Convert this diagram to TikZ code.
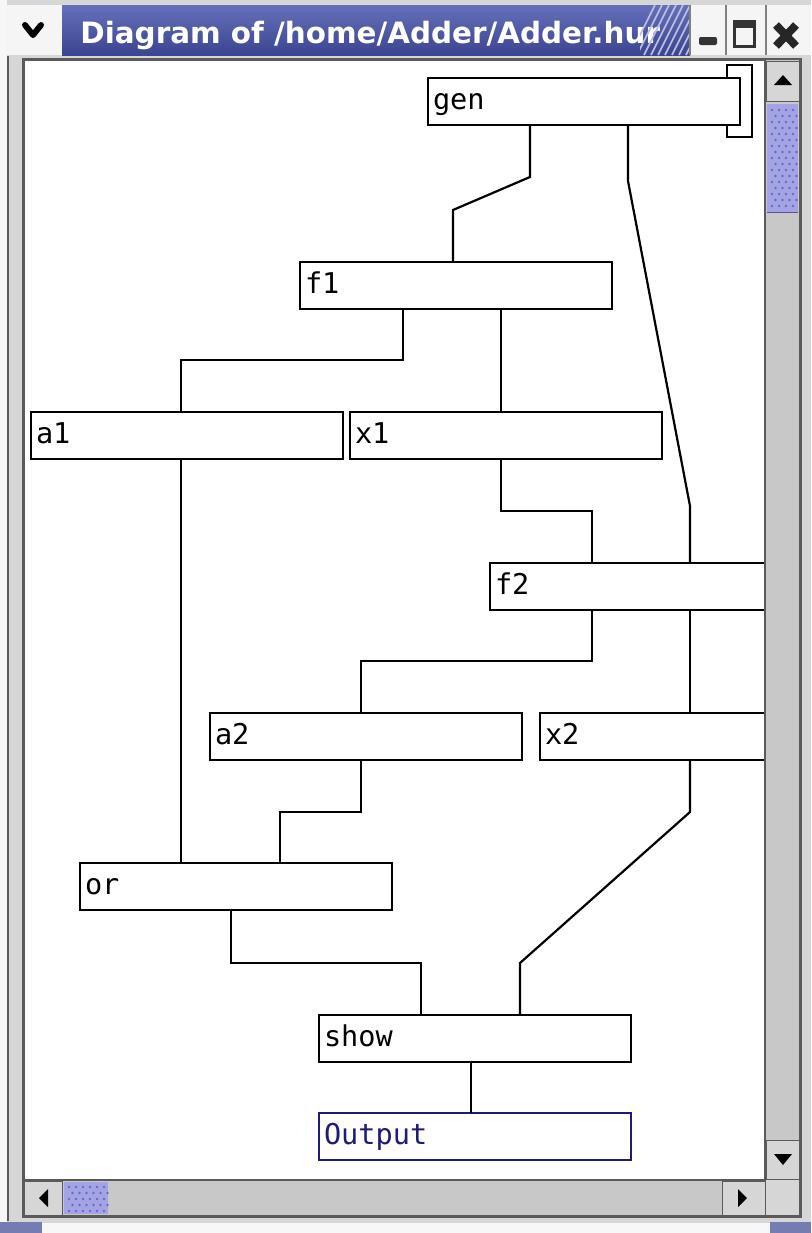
\documentclass[tikz,border=0pt]{standalone}
\usepackage{fontspec}
\usetikzlibrary{calc}
\newfontfamily\boxfont{DejaVu Sans Mono}
\newfontfamily\titlefont{DejaVu Sans}
\definecolor{chrome}{HTML}{D6D6D6}
\definecolor{track}{HTML}{C8C8C8}
\definecolor{edge}{HTML}{5A5A5A}
\definecolor{titletop}{HTML}{6670BA}
\definecolor{titlebot}{HTML}{3A4490}
\definecolor{thumb}{HTML}{A4A4E4}
\definecolor{thumbdot}{HTML}{6A6AC4}
\definecolor{navy}{HTML}{1C1C78}
\tikzset{
  blk/.style={draw, line width=1pt, fill=white, anchor=north west, outer sep=0pt,
    minimum width=156pt, minimum height=23.5pt, text width=151pt, inner xsep=2.5pt,
    inner ysep=0pt, align=left, text height=11pt, text depth=3pt,
    font=\boxfont\fontsize{14.3}{16}\selectfont},
  wire/.style={line width=1.1pt},
  btn/.style={fill=chrome, draw=edge, line width=0.5pt},
}
\begin{document}
\begin{tikzpicture}[x=0.5pt,y=-0.5pt]
 \useasboundingbox (0,0) rectangle (811,1233);
 \fill[white] (0,0) rectangle (811,1233);
 % diagram
 \begin{scope}
 \clip (24,60) rectangle (765,1180);
 \draw[line width=1pt] (727,65) rectangle (752,137);
 \node[blk] (gen) at (428,78) {gen};
 \node[blk] (f1) at (300,262) {f1};
 \node[blk] (a1) at (31,412) {a1};
 \node[blk] (x1) at (350,412) {x1};
 \node[blk] (f2) at (490,563) {f2};
 \node[blk] (a2) at (210,713) {a2};
 \node[blk] (x2) at (540,713) {x2};
 \node[blk] (or) at (80,863) {or};
 \node[blk] (show) at (319,1015) {show};
 \node[blk, draw=navy, text=navy] (out) at (319,1113) {Output};
 \draw[wire] ($(gen.south west)+(102,0)$) -- ++(0,52) -- ($(f1.north west)+(153,-52)$) -- ($(f1.north west)+(153,0)$);
 \draw[wire] ($(gen.south west)+(200,0)$) -- ++(0,56) -- ($(f2.north west)+(200,-57)$) -- ($(f2.north west)+(200,0)$);
 \draw[wire] ($(f1.south west)+(103,0)$) -- ++(0,51) -| ($(a1.north west)+(150,0)$);
 \draw[wire] ($(f1.south west)+(201,0)$) -- ($(x1.north west)+(151,0)$);
 \draw[wire] ($(a1.south west)+(150,0)$) -- ($(or.north west)+(101,0)$);
 \draw[wire] ($(x1.south west)+(151,0)$) -- ++(0,52) -| ($(f2.north west)+(102,0)$);
 \draw[wire] ($(f2.south west)+(102,0)$) -- ++(0,51) -| ($(a2.north west)+(151,0)$);
 \draw[wire] ($(f2.south west)+(200,0)$) -- ($(x2.north west)+(150,0)$);
 \draw[wire] ($(a2.south west)+(151,0)$) -- ++(0,52) -| ($(or.north west)+(200,0)$);
 \draw[wire] ($(or.south west)+(151,0)$) -- ++(0,53) -| ($(show.north west)+(102,0)$);
 \draw[wire] ($(x2.south west)+(150,0)$) -- ++(0,52) -- ($(show.north west)+(201,-52)$) -- ($(show.north west)+(201,0)$);
 \draw[wire] ($(show.south west)+(152,0)$) -- ($(out.north west)+(152,0)$);
 \end{scope}
 % window frame
 \fill[chrome] (0,0) rectangle (24,1233); \fill[chrome] (765,0) rectangle (811,1233);
 \fill[chrome] (0,0) rectangle (811,60); \fill[chrome] (0,1180) rectangle (811,1233);
 \fill[white!94!gray] (0,0) rectangle (7,1222);
 \draw[edge, line width=1pt] (8,56) -- (8,1221); \draw[edge, line width=1.5pt] (23,59) -- (23,1216) -- (800,1216) -- (800,59) -- cycle;
 % title bar
 \fill[white!92!gray] (5,5) rectangle (62,55);
 \draw[black, line width=3pt, line cap=round, line join=round] (25,25) -- (33,35) -- (41,25);
 \shade[top color=titletop, bottom color=titlebot] (62,5) rectangle (690,55);
 \begin{scope}
  \clip (62,5) rectangle (660,55);
  \node[anchor=base west, text=white, inner sep=0pt, font=\titlefont\bfseries\fontsize{14.7}{16}\selectfont] (title) at (80,43) {Diagram of /home/Adder/Adder.hurs};
 \end{scope}
 \begin{scope}
  \clip (640,5) rectangle (690,55);
  \foreach \s in {0,7,...,56}{\draw[white!55!titletop, line width=0.8pt] (630+\s,55) -- (655+\s,5);}
 \end{scope}
 \fill[white!92!gray] (690,5) rectangle (811,55);
 \draw[gray, line width=0.8pt] (690,5) -- (690,55) (726,5) -- (726,55) (766,5) -- (766,55);
 \fill[black!80, rounded corners=1pt] (699,37) rectangle (717,45);
 \draw[black!80, line width=1.5pt] (734,21) rectangle (754,46); \fill[black!80] (734,21) rectangle (754,28);
 \draw[black!85, line width=4pt] (776,25) -- (796,46) (796,25) -- (776,46);
 % vertical scrollbar
 \fill[track] (766,60) rectangle (799,1180);
 \draw[btn] (766,61) rectangle (799,101); \fill[black] (774,85) -- (792,85) -- (783,75) -- cycle;
 \draw[btn] (766,1140) rectangle (799,1179); \fill[black] (774,1154) -- (792,1154) -- (783,1165) -- cycle;
 \fill[thumb] (767,104) rectangle (798,212); \draw[thumbdot!80!black, line width=0.5pt] (767,212) -- (798,212);
 \foreach \r in {0,...,16}{\foreach \c in {0,...,3}{\fill[thumbdot] ({772+\c*7+mod(\r,2)*3.5},{110+\r*6}) circle (1.4);}}
 % horizontal scrollbar
 \fill[track] (24,1181) rectangle (765,1215);
 \draw[btn] (24,1181) rectangle (62,1215); \fill[black] (48,1189) -- (48,1207) -- (39,1198) -- cycle;
 \draw[btn] (722,1181) rectangle (765,1215); \fill[black] (738,1189) -- (738,1207) -- (747,1198) -- cycle;
 \fill[thumb] (64,1182) rectangle (108,1214);
 \foreach \r in {0,...,4}{\foreach \c in {0,...,5}{\fill[thumbdot] ({69+\c*7+mod(\r,2)*3.5},{1187+\r*6}) circle (1.4);}}
 \draw[edge, line width=1pt] (24,1180) -- (765,1180) -- (765,60);
 % bottom edge
 \fill[titlebot!70!white] (0,1222) rectangle (42,1233); \fill[titlebot!70!white] (770,1222) rectangle (811,1233);
 \fill[white!94!gray] (42,1223) rectangle (770,1233);
\end{tikzpicture}
\end{document}
